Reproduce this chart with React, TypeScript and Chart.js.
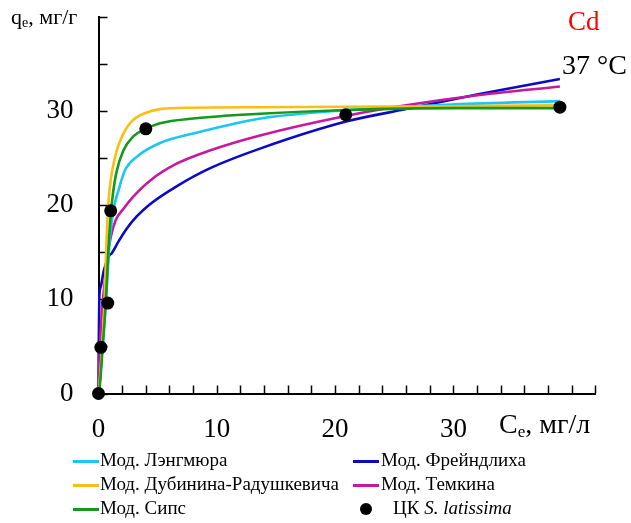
import React, { useEffect, useRef } from "react";
import { Chart, registerables } from "chart.js";
Chart.register(...registerables);

// Axis tick labels shown
const xLabelValues = [0, 10, 20, 30];
const yLabelValues = [0, 10, 20, 30];

// Experimental points: ЦК S. latissima
const expC = [0, 0.2, 0.78, 1.03, 4.0, 20.9, 39.0];
const expQ = [0, 4.9, 9.6, 19.4, 28.1, 29.6, 30.4];

// Мод. Лэнгмюра
const langC = [0, 0.1, 0.3, 0.6, 0.97, 1.31, 1.7, 2.2, 3.2, 5.2, 8.0, 13.7, 21, 30, 39];
const langQ = [0, 1.2, 4.5, 9.3, 16.6, 19.8, 21.6, 23.6, 25.1, 26.6, 27.6, 29.2, 30.1, 30.7, 31.05];

// Мод. Фрейндлиха
const freuC = [0, 0.02, 0.07, 0.18, 0.46, 0.89, 1.12, 1.67, 2.38, 3.23, 4.35, 6.6, 9.4, 13.65, 21, 26, 32.2, 39];
const freuQ = [0, 5, 10.3, 11.3, 13.1, 14.6, 14.9, 16.1, 17.5, 18.8, 20.1, 22.0, 23.9, 26.0, 28.9, 30.2, 31.8, 33.4];

// Мод. Дубинина-Радушкевича
const drC = [0, 0.1, 0.3, 0.5, 0.62, 0.7, 0.8, 0.97, 1.12, 1.54, 2.1, 2.8, 3.8, 5.2, 8, 13.65, 21, 30, 39];
const drQ = [0, 1.3, 4.8, 9.5, 14.0, 17.0, 19.6, 22.0, 23.4, 25.8, 27.6, 28.9, 29.7, 30.2, 30.35, 30.4, 30.45, 30.5, 30.6];

// Мод. Темкина
const temC = [0, 0.07, 0.27, 0.5, 0.75, 1.03, 1.45, 2.1, 2.94, 4.35, 6.6, 9.4, 13.65, 21, 26, 32.2, 39];
const temQ = [0, 3.2, 8.5, 11.5, 14.5, 16.6, 18.4, 19.6, 20.9, 22.6, 24.4, 25.8, 27.4, 29.5, 30.6, 31.7, 32.6];

// Мод. Сипс
const sipC = [0, 0.1, 0.32, 0.61, 0.85, 1.03, 1.2, 1.5, 2.1, 2.94, 4.0, 5.2, 8.0, 13.65, 21, 30, 39];
const sipQ = [0, 0.7, 4.3, 9.6, 15.5, 19.0, 21.0, 23.4, 25.8, 27.3, 28.1, 28.7, 29.2, 29.7, 30.1, 30.3, 30.3];

const COLORS = {
  lang: "#1AC6F4",
  freu: "#0A0AC4",
  dr: "#FBBE12",
  tem: "#C8189E",
  sip: "#14991A",
  exp: "#000000",
};

const pts = (xs: number[], ys: number[]) => xs.map((x, i) => ({ x, y: ys[i] }));

const FONT = "'Liberation Serif', 'Times New Roman', serif";

const inwardTicks = {
  id: "inwardTicks",
  beforeDatasetsDraw(chart: any) {
    const { ctx, chartArea } = chart;
    const xs = chart.scales.x;
    const ys = chart.scales.y;
    ctx.save();
    ctx.strokeStyle = "#000";
    ctx.lineWidth = 1.5;
    xs.ticks.forEach((t: any) => {
      const px = Math.round(xs.getPixelForValue(t.value)) + 0.5;
      ctx.beginPath();
      ctx.moveTo(px, chartArea.bottom);
      ctx.lineTo(px, chartArea.bottom - 8);
      ctx.stroke();
    });
    ys.ticks.forEach((t: any) => {
      const py = Math.round(ys.getPixelForValue(t.value)) + 0.5;
      ctx.beginPath();
      ctx.moveTo(chartArea.left, py);
      ctx.lineTo(chartArea.left + 9, py);
      ctx.stroke();
    });
    ctx.restore();
  },
};

function lineDs(label: string, xs: number[], ys: number[], color: string, order: number) {
  return {
    label,
    data: pts(xs, ys),
    showLine: true,
    borderColor: color,
    backgroundColor: color,
    borderWidth: 2.6,
    pointRadius: 0,
    cubicInterpolationMode: "monotone" as const,
    order,
    clip: false as any,
  };
}

export default function App() {
  const ref = useRef<HTMLCanvasElement | null>(null);
  useEffect(() => {
    if (!ref.current) return;
    const chart = new Chart(ref.current, {
      type: "scatter",
      data: {
        datasets: [
          {
            label: "ЦК S. latissima",
            data: pts(expC, expQ),
            pointRadius: 6.5,
            pointBackgroundColor: COLORS.exp,
            pointBorderColor: COLORS.exp,
            pointBorderWidth: 0,
            showLine: false,
            order: 0,
            clip: false as any,
          },
          lineDs("Мод. Фрейндлиха", freuC, freuQ, COLORS.freu, 5),
          lineDs("Мод. Темкина", temC, temQ, COLORS.tem, 4),
          lineDs("Мод. Лэнгмюра", langC, langQ, COLORS.lang, 3),
          lineDs("Мод. Дубинина-Радушкевича", drC, drQ, COLORS.dr, 2),
          lineDs("Мод. Сипс", sipC, sipQ, COLORS.sip, 1),
        ] as any,
      },
      options: {
        animation: false,
        responsive: false,
        maintainAspectRatio: false,
        layout: { padding: { left: 0, right: 35.6, top: 16.8, bottom: 0 } },
        plugins: { legend: { display: false }, tooltip: { enabled: false } },
        scales: {
          x: {
            type: "linear",
            min: 0,
            max: 42,
            afterFit: (s: any) => {
              s.height = 129.5;
              s.paddingLeft = 0;
              s.paddingRight = 0;
            },
            border: { display: true, color: "#000", width: 2 },
            grid: { display: true, drawOnChartArea: false, drawTicks: false, color: "rgba(0,0,0,0)" },
            ticks: {
              stepSize: 2,
              autoSkip: false,
              maxRotation: 0,
              padding: 20,
              color: "#000",
              font: { family: FONT, size: 27 },
              callback: (v: any) => (xLabelValues.includes(Number(v)) ? String(v) : ""),
            },
          },
          y: {
            type: "linear",
            min: 0,
            max: 40,
            afterFit: (s: any) => {
              s.width = 98.5;
              s.paddingTop = 0;
              s.paddingBottom = 0;
            },
            border: { display: true, color: "#000", width: 2 },
            grid: { display: true, drawOnChartArea: false, drawTicks: false, color: "rgba(0,0,0,0)" },
            ticks: {
              stepSize: 5,
              autoSkip: false,
              padding: 25,
              color: "#000",
              font: { family: FONT, size: 27 },
              callback: (v: any) => (yLabelValues.includes(Number(v)) ? String(v) : ""),
            },
          },
        },
      },
      plugins: [inwardTicks],
    });
    return () => chart.destroy();
  }, []);

  const legendText: React.CSSProperties = {
    position: "absolute",
    fontFamily: FONT,
    fontSize: 19,
    lineHeight: "22px",
    color: "#000",
    whiteSpace: "nowrap",
  };
  const legendLine = (left: number, top: number, color: string) => (
    <div style={{ position: "absolute", left, top: top - 1.5, width: 26, height: 3, background: color }} />
  );
  const rows = [461, 485, 509];

  return (
    <div
      style={{
        position: "fixed",
        left: 0,
        top: 0,
        width: 631,
        height: 523,
        background: "#fff",
        overflow: "hidden",
      }}
    >
      <canvas ref={ref} width={631} height={523} style={{ position: "absolute", left: 0, top: 0, width: 631, height: 523 }} />
      <div style={{ position: "absolute", left: 11, top: 4, fontFamily: FONT, fontSize: 22, lineHeight: "26px", whiteSpace: "nowrap" }}>
        q<sub style={{ fontSize: 14, verticalAlign: "-3px" }}>e</sub>, мг/г
      </div>
      <div style={{ position: "absolute", left: 499, top: 409, fontFamily: FONT, fontSize: 28, lineHeight: "30px", whiteSpace: "nowrap" }}>
        C<sub style={{ fontSize: 17, verticalAlign: "-4px" }}>e</sub>, мг/л
      </div>
      <div style={{ position: "absolute", left: 568, top: 6, fontFamily: FONT, fontSize: 27, lineHeight: "30px", color: "#FF0000", whiteSpace: "nowrap" }}>
        Cd
      </div>
      <div style={{ position: "absolute", left: 562, top: 49, fontFamily: FONT, fontSize: 28, lineHeight: "32px", color: "#000", whiteSpace: "nowrap" }}>
        37 °C
      </div>

      {legendLine(73, rows[0], COLORS.lang)}
      <div style={{ ...legendText, left: 100, top: rows[0] - 12 }}>Мод. Лэнгмюра</div>
      {legendLine(353, rows[0], COLORS.freu)}
      <div style={{ ...legendText, left: 381, top: rows[0] - 12 }}>Мод. Фрейндлиха</div>

      {legendLine(73, rows[1], COLORS.dr)}
      <div style={{ ...legendText, left: 100, top: rows[1] - 12 }}>Мод. Дубинина-Радушкевича</div>
      {legendLine(353, rows[1], COLORS.tem)}
      <div style={{ ...legendText, left: 381, top: rows[1] - 12 }}>Мод. Темкина</div>

      {legendLine(73, rows[2], COLORS.sip)}
      <div style={{ ...legendText, left: 100, top: rows[2] - 12 }}>Мод. Сипс</div>
      <div style={{ position: "absolute", left: 360, top: rows[2] - 6, width: 12, height: 12, borderRadius: 6, background: "#000" }} />
      <div style={{ ...legendText, left: 393, top: rows[2] - 12 }}>
        ЦК <i>S. latissima</i>
      </div>
    </div>
  );
}
